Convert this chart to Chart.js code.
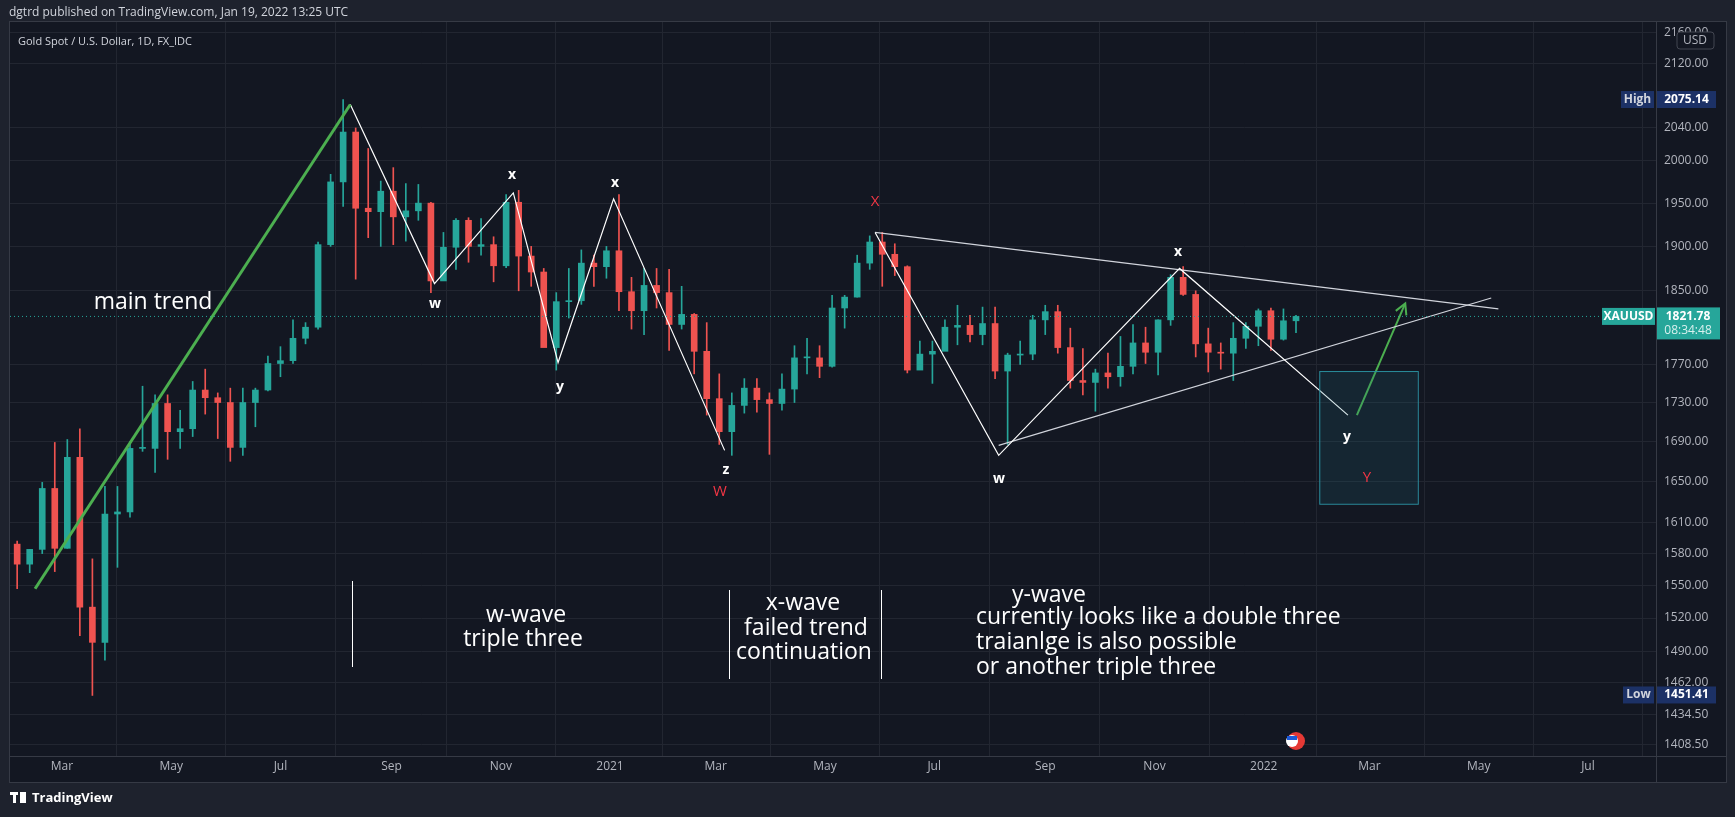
<!DOCTYPE html>
<html>
<head>
<meta charset="utf-8">
<script src="https://cdn.jsdelivr.net/npm/chart.js@4.4.1/dist/chart.umd.min.js"></script>
<style>
  html, body { margin: 0; padding: 0; background: #1e222d; }
  #wrap { position: relative; width: 1735px; height: 817px; }
  canvas { position: absolute; left: 0; top: 0; }
</style>
</head>
<body>
<div id="wrap"><canvas id="chart" width="1735" height="817"></canvas></div>
<script>
// weekly candles, week starting Mon 2020-02-03
const firstWeek = "2020-02-03";
const opens  = [1589,1570,1584,1643,1585,1674,1530,1498,1618,1620,1683,1683,1729,1700,1703,1743,1735,1730,1684,1730,1743,1771,1774,1798,1810,1902,1975,2035,1944,1940,1964,1934,1941,1950,1861,1899,1930,1900,1902,1878,1951,1889,1871,1788,1838,1839,1881,1877,
                1895,1849,1828,1856,1848,1813,1824,1784,1734,1700,1727,1745,1733,1729,1744,1777,1777,1768,1831,1843,1881,1905,1891,1877,1764,1781,1784,1810,1812,1802,1814,1763,1780,1781,1818,1827,1788,1753,1751,1761,1757,1768,1793,1783,1818,1865,1846,1792,1783,1782,1798,1811,1828,1797,1817];
const highs  = [1592,1584,1649,1689,1692,1703,1575,1645,1645,1690,1747,1738,1738,1722,1752,1765,1740,1745,1745,1745,1779,1789,1818,1815,1905,1984,2075,2040,2015,1976,1992,1973,1972,1951,1916,1932,1933,1932,1911,1960,1965,1900,1875,1848,1875,1896,1890,1900,
                1960,1865,1875,1875,1874,1855,1825,1815,1760,1740,1755,1755,1740,1760,1790,1798,1790,1845,1845,1890,1912,1916,1903,1878,1795,1795,1818,1834,1823,1832,1832,1782,1795,1823,1834,1834,1809,1787,1765,1782,1800,1813,1810,1818,1868,1877,1850,1809,1793,1815,1815,1830,1831,1830,1823];
const lows   = [1547,1562,1580,1563,1585,1504,1451,1482,1567,1615,1680,1659,1672,1683,1695,1718,1693,1670,1676,1705,1742,1757,1771,1792,1808,1900,1946,1863,1910,1900,1902,1906,1930,1848,1870,1874,1882,1890,1860,1876,1850,1855,1800,1764,1820,1835,1855,1864,
                1828,1808,1802,1831,1785,1808,1760,1717,1687,1676,1719,1720,1677,1722,1730,1760,1756,1767,1809,1843,1874,1855,1867,1761,1765,1750,1786,1791,1794,1791,1755,1687,1770,1775,1802,1782,1745,1738,1721,1745,1747,1760,1771,1759,1812,1845,1778,1762,1765,1753,1787,1790,1785,1796,1804];
const closes = [1570,1584,1643,1585,1674,1530,1498,1618,1620,1683,1683,1729,1700,1703,1743,1735,1730,1684,1730,1743,1771,1774,1798,1810,1902,1975,2035,1944,1940,1964,1934,1941,1950,1861,1899,1930,1900,1902,1878,1951,1889,1871,1788,1838,1839,1881,1877,1895,
                1849,1828,1856,1848,1813,1824,1784,1734,1700,1727,1745,1733,1729,1744,1777,1777,1768,1831,1843,1881,1905,1891,1877,1764,1781,1784,1810,1812,1802,1814,1763,1780,1781,1818,1827,1788,1753,1751,1761,1757,1768,1793,1783,1818,1865,1846,1792,1783,1782,1798,1811,1828,1797,1817,1821.78];

const priceTicks = [1408.5,1434.5,1462,1490,1520,1550,1580,1610,1650,1690,1730,1770,1850,1900,1950,2000,2040,2120,2160];
const monthLabels = ["Mar","May","Jul","Sep","Nov","2021","Mar","May","Jul","Sep","Nov","2022","Mar","May","Jul"];
const monthDates  = ["2020-03-01","2020-05-01","2020-07-01","2020-09-01","2020-11-01","2021-01-01","2021-03-01","2021-05-01","2021-07-01","2021-09-01","2021-11-01","2022-01-01","2022-03-01","2022-05-01","2022-07-01"];

// drawings as [day, price]
const trendLine = [[45,1547],[221,2069]];
const wWave = [[221,2069],[268,1858],[312,1962],[337,1772],[368,1955],[430,1681]];
const yWave = [[514,1916],[583,1676],[684,1875],[778,1717]];
const upperLine = [[514,1916],[862,1830]];
const lowerLine = [[583,1686],[858,1842]];
const arrowLine = [[783,1717],[810,1836]];
const targetBox = [[762,1763],[817,1628]];
const lastPrice = 1821.78, highPrice = 2075.14, lowPrice = 1451.41;

const day0 = Date.UTC(2020,0,1);
const toDay = s => Math.round((Date.parse(s) - day0) / 86400000);
const weekX = opens.map((_, i) => toDay(firstWeek) + 2 + 7 * i);
const up = opens.map((o, i) => closes[i] >= o);
const col = up.map(u => u ? "#26a69a" : "#ef5350");
const pts = a => a.map(p => ({x: p[0], y: p[1]}));

const texts = [
  ["main trend", 153, 302, 23, "#ffffff", "normal"],
  ["x", 512, 175, 14, "#ffffff", "bold"], ["w", 435, 304, 14, "#ffffff", "bold"],
  ["y", 560, 387, 14, "#ffffff", "bold"], ["x", 615, 183, 14, "#ffffff", "bold"],
  ["z", 726, 470, 14, "#ffffff", "bold"], ["W", 720, 492, 15, "#f23645", "normal"],
  ["X", 875, 202, 15, "#f23645", "normal"], ["x", 1178, 252, 14, "#ffffff", "bold"],
  ["w", 999, 479, 14, "#ffffff", "bold"], ["y", 1347, 437, 14, "#ffffff", "bold"],
  ["Y", 1367, 478, 15, "#f23645", "normal"],
  ["w-wave", 526, 615, 23, "#ffffff", "normal"], ["triple three", 523, 639, 23, "#ffffff", "normal"],
  ["x-wave", 803, 603, 23, "#ffffff", "normal"], ["failed trend", 806, 628, 23, "#ffffff", "normal"],
  ["continuation", 804, 652, 23, "#ffffff", "normal"], ["y-wave", 1049, 595, 23, "#ffffff", "normal"]
];
const leftTexts = [["currently looks like a double three", 976, 617], ["traianlge is also possible", 976, 642], ["or another triple three", 976, 667]];
const vLines = [[352, 581, 667], [729, 590, 679], [881, 590, 679]];

const overlay = {
  id: "overlay",
  beforeDraw(c) {
    const ctx = c.ctx, a = c.chartArea;
    ctx.save();
    ctx.fillStyle = "#1e222d"; ctx.fillRect(0, 0, c.width, c.height);
    ctx.fillStyle = "#131722"; ctx.fillRect(a.left, a.top, 1726 - a.left, 782 - a.top);
    ctx.restore();
  },
  afterDatasetsDraw(c) {
    const ctx = c.ctx, x = c.scales.x, y = c.scales.y, a = c.chartArea;
    ctx.save();
    // target box
    const bx1 = x.getPixelForValue(targetBox[0][0]), by1 = y.getPixelForValue(targetBox[0][1]);
    const bx2 = x.getPixelForValue(targetBox[1][0]), by2 = y.getPixelForValue(targetBox[1][1]);
    ctx.fillStyle = "rgba(33,110,130,0.18)"; ctx.fillRect(bx1, by1, bx2 - bx1, by2 - by1);
    ctx.strokeStyle = "#2a8c9c"; ctx.lineWidth = 1; ctx.strokeRect(bx1 + .5, by1 + .5, bx2 - bx1, by2 - by1);
    // arrow head
    const ax1 = x.getPixelForValue(arrowLine[0][0]), ay1 = y.getPixelForValue(arrowLine[0][1]);
    const ax2 = x.getPixelForValue(arrowLine[1][0]), ay2 = y.getPixelForValue(arrowLine[1][1]);
    const ang = Math.atan2(ay2 - ay1, ax2 - ax1);
    ctx.strokeStyle = "#4caf50"; ctx.lineWidth = 2;
    ctx.beginPath();
    ctx.moveTo(ax2 - 12 * Math.cos(ang - 0.5), ay2 - 12 * Math.sin(ang - 0.5));
    ctx.lineTo(ax2, ay2);
    ctx.lineTo(ax2 - 12 * Math.cos(ang + 0.5), ay2 - 12 * Math.sin(ang + 0.5));
    ctx.stroke();
    // texts
    ctx.textBaseline = "middle";
    texts.forEach(t => {
      ctx.font = `${t[5]} ${t[3]}px "Open Sans", sans-serif`;
      ctx.fillStyle = t[4]; ctx.textAlign = "center"; ctx.fillText(t[0], t[1], t[2]);
    });
    ctx.font = '23px "Open Sans", sans-serif'; ctx.fillStyle = "#ffffff"; ctx.textAlign = "left";
    leftTexts.forEach(t => ctx.fillText(t[0], t[1], t[2]));
    ctx.strokeStyle = "#ffffff"; ctx.lineWidth = 1;
    vLines.forEach(v => { ctx.beginPath(); ctx.moveTo(v[0] + .5, v[1]); ctx.lineTo(v[0] + .5, v[2]); ctx.stroke(); });
    // earnings icon
    ctx.fillStyle = "#e53935"; ctx.beginPath(); ctx.arc(1296, 741, 9, 0, 2 * Math.PI); ctx.fill();
    ctx.fillStyle = "#ffffff"; ctx.beginPath(); ctx.arc(1292, 741, 6, 0, 2 * Math.PI); ctx.fill();
    ctx.fillStyle = "#1e5bd8"; ctx.fillRect(1287, 736, 10, 4);
    // axis frame
    ctx.strokeStyle = "#363a45";
    ctx.beginPath(); ctx.moveTo(a.right + .5, a.top); ctx.lineTo(a.right + .5, 782); ctx.stroke();
    ctx.beginPath(); ctx.moveTo(a.left, a.bottom + .5); ctx.lineTo(1726, a.bottom + .5); ctx.stroke();
    ctx.strokeRect(a.left - .5, a.top - .5, 1726 - a.left + 1, 782 - a.top + 1);
    // price labels
    const tag = (txt, yv, bg, lx, w, h, fg, bold) => {
      ctx.fillStyle = bg; ctx.fillRect(lx, yv - h / 2, w, h);
      ctx.fillStyle = fg; ctx.font = `${bold ? "bold " : ""}12px "Open Sans", sans-serif`;
      ctx.textAlign = "center"; ctx.fillText(txt, lx + w / 2, yv);
    };
    const yh = y.getPixelForValue(highPrice), yl = y.getPixelForValue(lowPrice), yp = y.getPixelForValue(lastPrice);
    tag("High", yh, "#1c3166", 1621, 33, 17, "#d1d4dc", true);
    tag(highPrice.toFixed(2), yh, "#1c3166", 1657, 59, 17, "#ffffff", true);
    tag("Low", yl, "#1c3166", 1623, 31, 17, "#d1d4dc", true);
    tag(lowPrice.toFixed(2), yl, "#1c3166", 1657, 59, 17, "#ffffff", true);
    tag("XAUUSD", yp, "#26a69a", 1602, 53, 17, "#ffffff", true);
    ctx.fillStyle = "#26a69a"; ctx.fillRect(1657, yp - 9, 63, 32);
    ctx.fillStyle = "#ffffff"; ctx.font = 'bold 12px "Open Sans", sans-serif'; ctx.textAlign = "center";
    ctx.fillText(lastPrice.toFixed(2), 1688, yp);
    ctx.fillStyle = "#d8f0ee"; ctx.font = '12px "Open Sans", sans-serif'; ctx.fillText("08:34:48", 1688, yp + 14);
    ctx.strokeStyle = "#434651"; ctx.fillStyle = "#131722";
    ctx.beginPath(); ctx.roundRect(1677, 32, 37, 17, 3); ctx.fill(); ctx.stroke();
    ctx.fillStyle = "#b2b5be"; ctx.fillText("USD", 1695, 41);
    // headers
    ctx.textAlign = "left";
    ctx.fillStyle = "#d1d4dc"; ctx.font = '12px "Open Sans", sans-serif';
    ctx.fillText("dgtrd published on TradingView.com, Jan 19, 2022 13:25 UTC", 9, 13);
    ctx.font = '11px "Open Sans", sans-serif';
    ctx.fillText("Gold Spot / U.S. Dollar, 1D, FX_IDC", 18, 42);
    ctx.fillStyle = "#ffffff"; ctx.font = 'bold 13px "Open Sans", sans-serif';
    ctx.fillText("TradingView", 32, 798);
    ctx.fillRect(10, 792, 8, 3); ctx.fillRect(13, 792, 3, 11); ctx.fillRect(20, 792, 6, 11);
    ctx.restore();
  }
};

const lineDs = (data, color, width) => ({
  type: "line", data: pts(data), borderColor: color, borderWidth: width,
  pointRadius: 0, fill: false, tension: 0, order: 0
});

new Chart(document.getElementById("chart"), {
  type: "bar",
  data: {
    datasets: [
      { data: weekX.map((x, i) => ({x: x, y: [lows[i], highs[i]]})), backgroundColor: col,
        barThickness: 1, grouped: false, order: 3 },
      { data: weekX.map((x, i) => ({x: x, y: [opens[i], closes[i]]})), backgroundColor: col,
        barThickness: 6, grouped: false, minBarLength: 1, order: 2 },
      Object.assign(lineDs([[31, lastPrice], [950, lastPrice]], "#26a69a", 1), { borderDash: [1, 3] }),
      lineDs(trendLine, "#4caf50", 3),
      lineDs(wWave, "#ffffff", 1.2),
      lineDs(yWave, "#ffffff", 1.2),
      lineDs(upperLine, "#d1d4dc", 1.2),
      lineDs(lowerLine, "#d1d4dc", 1.2),
      lineDs(arrowLine, "#4caf50", 2)
    ]
  },
  options: {
    responsive: false, animation: false, events: [],
    layout: { padding: { left: 10, top: 22, right: 9, bottom: 35 } },
    plugins: { legend: { display: false }, tooltip: { enabled: false } },
    scales: {
      x: {
        type: "linear", min: 31, max: 950, offset: false,
        afterBuildTicks: s => { s.ticks = monthDates.map(d => ({value: toDay(d)})); },
        afterFit: s => { s.height = 26; },
        ticks: { color: "#b2b5be", font: { size: 12, family: "Open Sans" }, maxRotation: 0, autoSkip: false,
          callback: (v) => monthLabels[monthDates.findIndex(d => toDay(d) === v)] },
        grid: { color: "#222631", drawTicks: false },
        border: { display: false }
      },
      y: {
        type: "logarithmic", position: "right", min: 1399.2, max: 2174,
        afterBuildTicks: s => { s.ticks = priceTicks.map(v => ({value: v})); },
        afterFit: s => { s.width = 70; },
        ticks: { color: "#b2b5be", font: { size: 12, family: "Open Sans" }, padding: 8, autoSkip: false,
          callback: v => Number(v).toFixed(2) },
        grid: { color: "#222631", drawTicks: false },
        border: { display: false }
      }
    }
  },
  plugins: [overlay]
});
</script>
</body>
</html>
